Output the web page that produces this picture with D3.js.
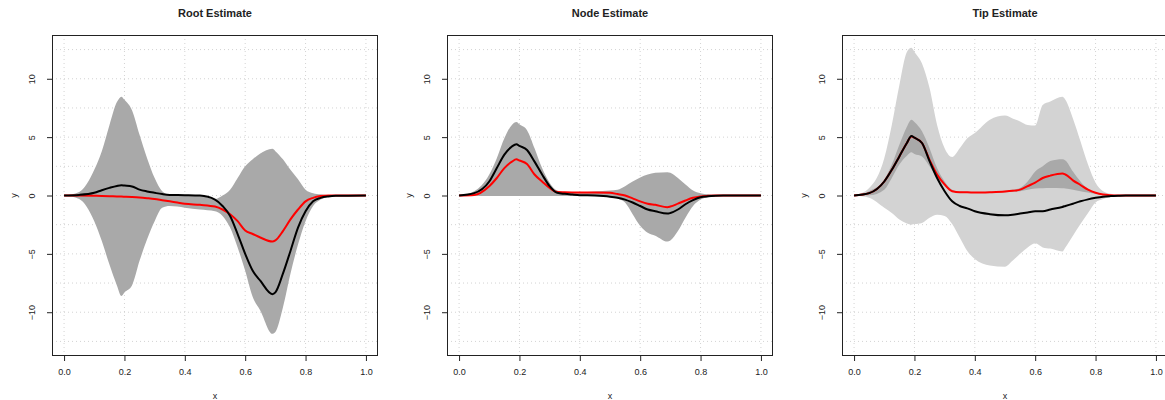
<!DOCTYPE html>
<html lang="en">
<head>
<meta charset="UTF-8">
<title>Root / Node / Tip Estimate</title>
<script src="https://cdn.jsdelivr.net/npm/d3@7/dist/d3.min.js"></script>
<style>
    body{ margin:0; background:#fff; }
    text{ font-family: "Liberation Sans", Arial, sans-serif; fill:#222; }
    .title{ font-weight:bold; font-size:11px; }
    .tick text{ font-size:9px; }
    .grid line{ stroke:#d3d3d3; stroke-dasharray:1 3; stroke-width:1px; }
    .axis path, .axis line{ stroke:#222; }
</style>
</head>
<body>
<svg id="main" width="1165" height="400"></svg>
<script>
// shared x positions the curves were read at
const xs = [0, 0.05, 0.1, 0.125, 0.15, 0.175, 0.19, 0.2, 0.225, 0.25, 0.275, 0.3, 0.325, 0.35, 0.375, 0.4, 0.45, 0.5,
            0.525, 0.55, 0.575, 0.6, 0.625, 0.65, 0.69, 0.7, 0.725, 0.75, 0.775, 0.8, 0.825, 0.85, 0.875, 0.9, 1.0];

// Root Estimate
const rootHi  = [0, 0.3, 2.2, 3.8, 6.0, 8.0, 8.47, 8.2, 7.3, 5.2, 3.2, 1.5, 0.37, 0.05, 0.02, 0, -0.05, -0.3,
                 0, 0.5, 1.5, 2.5, 3.1, 3.6, 4.0, 3.8, 3.1, 2.2, 1.4, 0.5, 0.2, 0.1, 0.03, 0, 0];
const rootLo  = [0, -0.3, -2.2, -3.9, -5.9, -7.7, -8.6, -8.3, -7.7, -5.6, -3.75, -2.2, -1.05, -0.9, -0.95, -1.05, -1.2, -1.35,
                 -1.75, -2.75, -4.45, -6.45, -8.7, -9.85, -11.85, -11.7, -9.6, -6.7, -4.2, -2.2, -0.9, -0.35, -0.1, 0, 0];
const rootBlk = [0, 0.05, 0.23, 0.45, 0.65, 0.82, 0.88, 0.85, 0.77, 0.5, 0.35, 0.23, 0.12, 0.05, 0.04, 0.03, 0, -0.35,
                 -0.9, -1.75, -3.3, -5.0, -6.45, -7.3, -8.45, -8.3, -6.7, -4.75, -2.75, -1.35, -0.5, -0.2, -0.08, -0.03, 0];
const rootRed = [0, 0, -0.02, -0.04, -0.06, -0.08, -0.09, -0.1, -0.13, -0.17, -0.23, -0.3, -0.4, -0.5, -0.6, -0.7, -0.8, -0.95,
                 -1.2, -1.6, -2.2, -3.0, -3.3, -3.6, -3.95, -3.85, -3.05, -2.05, -1.2, -0.5, -0.2, -0.05, 0, 0, 0];

// Node Estimate
const nodeHi  = [0, 0.37, 1.8, 3.2, 4.9, 6.05, 6.3, 6.1, 5.6, 4.05, 2.35, 1.1, 0.43, 0.3, 0.3, 0.3, 0.35, 0.43,
                 0.5, 0.8, 1.2, 1.55, 1.8, 1.95, 2.0, 1.95, 1.5, 0.95, 0.43, 0.2, 0.1, 0.05, 0.02, 0, 0];
const nodeLo  = [0, -0.02, -0.05, -0.05, -0.05, -0.05, -0.05, -0.05, -0.05, -0.05, -0.05, -0.05, -0.05, -0.05, -0.05, -0.05, -0.05, -0.05,
                 -0.25, -0.6, -1.6, -2.6, -3.2, -3.45, -3.95, -3.85, -3.05, -1.9, -0.9, -0.35, -0.15, -0.05, -0.02, 0, 0];
const nodeBlk = [0, 0.2, 1.2, 2.35, 3.5, 4.2, 4.4, 4.25, 3.9, 2.9, 1.8, 0.8, 0.23, 0.14, 0.08, 0.03, 0, -0.1,
                 -0.2, -0.35, -0.6, -0.9, -1.2, -1.35, -1.55, -1.5, -1.2, -0.75, -0.4, -0.15, -0.07, -0.03, -0.01, 0, 0];
const nodeRed = [0, 0.05, 0.8, 1.5, 2.35, 2.9, 3.1, 3.0, 2.7, 1.8, 1.2, 0.65, 0.3, 0.28, 0.26, 0.25, 0.25, 0.23,
                 0.12, 0, -0.25, -0.5, -0.7, -0.8, -1.0, -0.95, -0.7, -0.43, -0.2, -0.08, -0.03, 0, 0, 0, 0];

// Tip Estimate
const tipWideHi = [0, 0.65, 3.2, 6.05, 9.45, 12.3, 12.65, 12.3, 11.3, 9.2, 6.05, 4.05, 3.3, 4.05, 4.9, 5.35, 6.5, 6.85,
                   6.6, 6.35, 6.05, 6.0, 7.75, 8.05, 8.45, 8.2, 6.6, 4.65, 2.65, 1.1, 0.37, 0.14, 0.05, 0, 0];
const tipWideLo = [0, -0.2, -1.05, -1.5, -2.05, -2.4, -2.5, -2.45, -2.35, -1.9, -1.65, -1.75, -2.45, -3.6, -4.75, -5.45, -6.0, -6.1,
                   -5.6, -5.0, -4.45, -4.1, -4.45, -4.55, -4.8, -4.45, -3.45, -2.45, -1.5, -0.6, -0.3, -0.1, -0.03, 0, 0];
const tipHi   = [0, 0.37, 1.35, 2.65, 4.35, 5.9, 6.5, 6.3, 5.5, 4.05, 2.35, 1.2, 0.5, 0.35, 0.33, 0.3, 0.33, 0.4,
                 0.5, 0.65, 1.2, 2.05, 2.5, 2.95, 3.1, 3.0, 2.05, 1.2, 0.55, 0.23, 0.1, 0.05, 0.02, 0, 0];
const tipLo   = [0, 0.02, 0.5, 1.5, 2.65, 3.4, 3.7, 3.55, 3.35, 2.5, 1.5, 0.8, 0.37, 0.25, 0.24, 0.22, 0.24, 0.28,
                 0.32, 0.37, 0.5, 0.6, 0.63, 0.65, 0.62, 0.6, 0.5, 0.37, 0.25, 0.14, 0.07, 0.03, 0.01, 0, 0];
const tipBlk  = [0, 0.2, 1.2, 2.2, 3.35, 4.5, 5.1, 4.95, 4.5, 2.95, 1.5, 0.37, -0.5, -0.9, -1.1, -1.35, -1.6, -1.7,
                 -1.65, -1.55, -1.45, -1.35, -1.35, -1.2, -0.98, -0.9, -0.7, -0.5, -0.33, -0.2, -0.1, -0.05, -0.02, 0, 0];
const tipRed  = [0, 0.2, 1.2, 2.2, 3.35, 4.5, 5.05, 4.95, 4.5, 3.05, 1.8, 0.95, 0.37, 0.28, 0.28, 0.25, 0.28, 0.34,
                 0.4, 0.5, 0.8, 1.1, 1.5, 1.7, 1.88, 1.8, 1.3, 0.9, 0.5, 0.23, 0.08, 0.02, 0, 0, 0];

const xTicks = [0, 0.2, 0.4, 0.6, 0.8, 1.0];
const yTicks = [-10, -5, 0, 5, 10];
const yGrid  = [-12.5, -10, -7.5, -5, -2.5, 0, 2.5, 5, 7.5, 10, 12.5];

const panels = [
    {title: 'Root Estimate', left: 52,  bands: [[rootLo, rootHi, '#a9a9a9']], red: rootRed, blk: rootBlk},
    {title: 'Node Estimate', left: 447, bands: [[nodeLo, nodeHi, '#a9a9a9']], red: nodeRed, blk: nodeBlk},
    {title: 'Tip Estimate',  left: 842, bands: [[tipWideLo, tipWideHi, '#d3d3d3'], [tipLo, tipHi, '#a9a9a9']], red: tipRed, blk: tipBlk}
];

let svg = d3.select('svg#main');
let w = 326, plotTop = 35, plotBottom = 356;

panels.forEach(function(p){
    let xScale = d3.scaleLinear().domain([-0.04, 1.04]).range([p.left, p.left + w]);
    let yScale = d3.scaleLinear().domain([-13.75, 13.75]).range([plotBottom, plotTop]);
    let g = svg.append('g');

    // grid
    let grid = g.append('g').attr('class', 'grid');
    grid.selectAll('line.v').data(xTicks).join('line')
        .attr('class', 'v')
        .attr('x1', d => xScale(d)).attr('x2', d => xScale(d))
        .attr('y1', plotTop).attr('y2', plotBottom);
    grid.selectAll('line.h').data(yGrid).join('line')
        .attr('class', 'h')
        .attr('x1', p.left).attr('x2', p.left + w)
        .attr('y1', d => yScale(d)).attr('y2', d => yScale(d));

    // bands
    p.bands.forEach(function(b){
        let area = d3.area()
            .x((d, i) => xScale(xs[i]))
            .y0((d, i) => yScale(b[0][i]))
            .y1((d, i) => yScale(b[1][i]))
            .curve(d3.curveMonotoneX);
        g.append('path').attr('d', area(xs)).attr('fill', b[2]);
    });

    // lines
    let line = function(vals){
        return d3.line()
            .x((d, i) => xScale(xs[i]))
            .y((d, i) => yScale(vals[i]))
            .curve(d3.curveMonotoneX)(xs);
    };
    g.append('path').attr('d', line(p.red)).attr('fill', 'none')
        .attr('stroke', '#ff0000').attr('stroke-width', 2);
    g.append('path').attr('d', line(p.blk)).attr('fill', 'none')
        .attr('stroke', '#000').attr('stroke-width', 2);

    // frame
    g.append('rect').attr('x', p.left + 0.5).attr('y', plotTop + 0.5)
        .attr('width', w - 1).attr('height', plotBottom - plotTop - 1)
        .attr('fill', 'none').attr('stroke', '#222');

    // axes
    let xAxis = g.append('g').attr('class', 'axis')
        .attr('transform', 'translate(0,' + plotBottom + ')')
        .call(d3.axisBottom(xScale).tickValues(xTicks).tickFormat(d3.format('.1f')).tickSize(5).tickPadding(8));
    xAxis.select('.domain').remove();
    let yAxis = g.append('g').attr('class', 'axis')
        .attr('transform', 'translate(' + p.left + ',0)')
        .call(d3.axisLeft(yScale).tickValues(yTicks).tickFormat(d => d < 0 ? '\u2212' + (-d) : d).tickSize(5).tickPadding(0));
    yAxis.select('.domain').remove();
    yAxis.selectAll('.tick text')
        .attr('text-anchor', 'middle')
        .attr('x', 0).attr('dy', 0)
        .attr('transform', 'translate(-17,0) rotate(-90)');

    // titles and axis labels
    let cx = (p.left + p.left + w) / 2;
    g.append('text').attr('class', 'title').attr('x', cx).attr('y', 17)
        .attr('text-anchor', 'middle').text(p.title);
    g.append('text').attr('x', cx).attr('y', 399).attr('font-size', 9)
        .attr('text-anchor', 'middle').text('x');
    g.append('text').attr('font-size', 9).attr('text-anchor', 'middle')
        .attr('transform', 'translate(' + (p.left - 35) + ',' + ((plotTop + plotBottom) / 2) + ') rotate(-90)')
        .text('y');
});
</script>
</body>
</html>
